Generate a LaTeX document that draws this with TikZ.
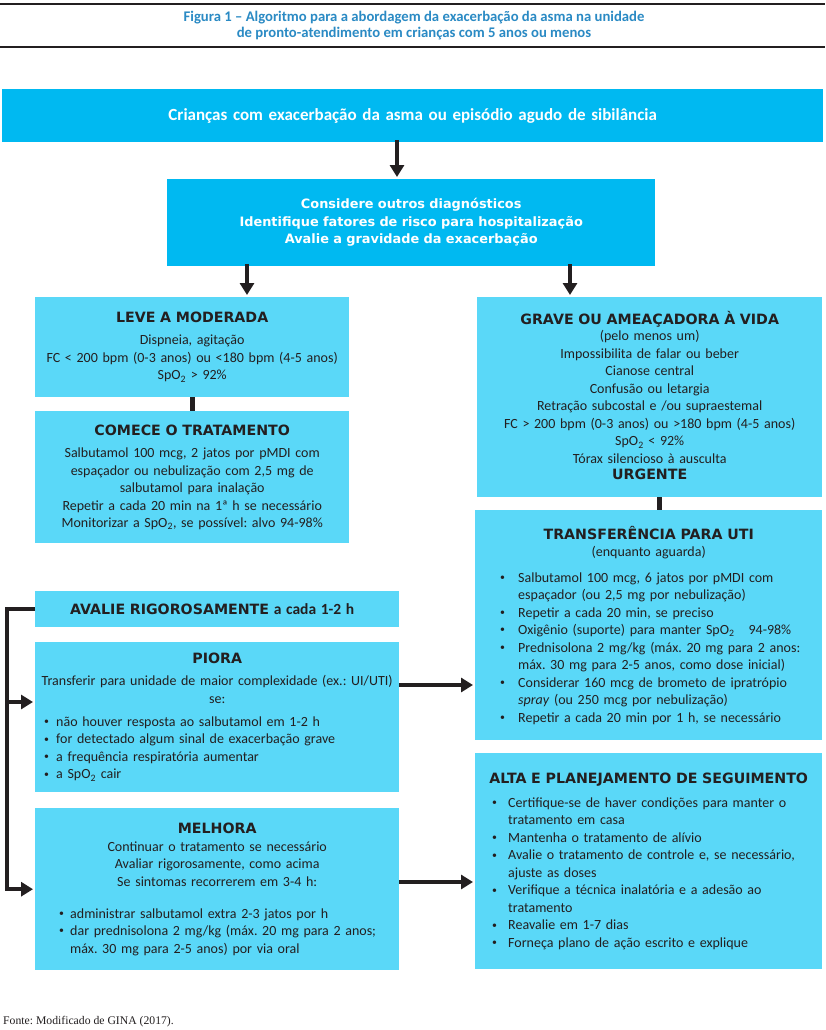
\documentclass[tikz,border=0pt]{standalone}
\usepackage{graphicx}
\usepackage{fontspec}
\setmainfont{Carlito}
\newfontfamily\dejavu{DejaVu Sans}
\newfontfamily\serifft{Liberation Serif}
\usetikzlibrary{arrows.meta}
\setlength\parskip{0pt}
\frenchspacing
\definecolor{dcyan}{HTML}{00B9F1}
\definecolor{lcyan}{HTML}{5AD8F8}
\definecolor{tblue}{HTML}{2A8AC4}
\definecolor{ink}{HTML}{231F20}
\newcommand{\bodyf}{\fontsize{14}{17.5}\selectfont}
\newcommand{\ttlf}{\dejavu\bfseries\fontsize{14.2}{17.5}\selectfont}
\newlength\bulW
\newcommand{\bul}[1]{\par\noindent\hangindent=\bulW\hangafter=1\makebox[\bulW][l]{\raisebox{0.25ex}{\scalebox{0.7}{\textbullet}}}#1}
\newcommand{\spo}{SpO\textsubscript{2}}
\begin{document}
\begin{tikzpicture}[x=1pt,y=-1pt,
  box/.style={rectangle, inner xsep=4pt, inner ysep=0pt, anchor=north west, text=ink, font=\bodyf, fill=lcyan},
  dbox/.style={box, fill=dcyan, text=white},
  arr/.style={line width=3.5pt, draw=ink, -{Triangle[length=12pt,width=14pt]}, shorten >=2pt},
  ln/.style={line width=5pt, draw=ink},
  brk/.style={line width=3.5pt, draw=ink},
]
\useasboundingbox (0,0) rectangle (825,1030);
\fill[white] (0,0) rectangle (825,1030);
% title
\draw[line width=2.5pt, draw=ink] (0,4) -- (825,4);
\draw[line width=2.5pt, draw=ink] (0,47) -- (825,47);
\node[align=center, text=tblue, font=\bfseries\fontsize{14.7}{16}\selectfont] (title) at (414,25.5)
  {Figura 1 – Algoritmo para a abordagem da exacerbação da asma na unidade\\de pronto-atendimento  em crianças com 5 anos ou menos};

\node[dbox, text width=813pt, minimum height=53pt, align=center, font=\bfseries\fontsize{17}{17.5}\selectfont] (box1) at (2,89)
  {Crianças com exacerbação da asma ou episódio agudo de sibilância};
\node[dbox, text width=480pt, minimum height=87pt, align=center, font=\dejavu\bfseries\fontsize{12.9}{17.5}\selectfont] (box2) at (167,179)
  {Considere outros diagnósticos\\Identifique fatores de risco para hospitalização\\Avalie a gravidade da exacerbação};

\node[box, text width=306pt, minimum height=100pt, align=center] (leve) at (35,297)
  {{\ttlf LEVE A MODERADA}\\[4.5pt]Dispneia, agitação\\FC < 200 bpm (0-3 anos) ou <180 bpm (4-5 anos)\\\spo{} > 92\%};
\node[box, text width=306pt, minimum height=132pt, align=center] (comece) at (35,411)
  {{\ttlf COMECE O TRATAMENTO}\\[5pt]Salbutamol 100 mcg, 2 jatos por pMDI com\\espaçador ou nebulização com 2,5 mg de\\salbutamol para inalação\\Repetir a cada 20 min na 1ª h se necessário\\Monitorizar a \spo, se possível: alvo 94-98\%};

\node[box, text width=337pt, minimum height=200pt, align=center] (grave) at (477,297)
  {{\ttlf GRAVE OU AMEAÇADORA À VIDA}\\[-1pt](pelo menos um)\\Impossibilita de falar ou beber\\Cianose central\\Confusão ou letargia\\Retração subcostal e /ou supraestemal\\FC > 200 bpm (0-3 anos) ou >180 bpm (4-5 anos)\\\spo{} < 92\%\\Tórax silencioso à ausculta\\[-1pt]{\ttlf URGENTE}\vspace*{3pt}};

\node[box, text width=339pt, minimum height=230pt] (transf) at (475,510)
  {\centering{\ttlf TRANSFERÊNCIA PARA UTI}\par (enquanto aguarda)\par\vspace{8pt}%
   \raggedright\setlength\leftskip{21pt}\setlength\bulW{18pt}%
   \bul{Salbutamol 100 mcg, 6 jatos por pMDI com\newline espaçador (ou 2,5 mg por nebulização)}%
   \bul{Repetir a cada 20 min, se preciso}%
   \bul{Oxigênio (suporte) para manter \spo\quad 94-98\%}%
   \bul{Prednisolona 2 mg/kg (máx. 20 mg para 2 anos:\newline máx. 30 mg para 2-5 anos, como dose inicial)}%
   \bul{Considerar 160 mcg de brometo de ipratrópio\newline \textit{spray} (ou 250 mcg por nebulização)}%
   \bul{Repetir a cada 20 min por 1 h, se necessário}\par};

\node[box, text width=356pt, minimum height=36pt, align=center] (aval) at (35,591)
  {\hspace*{-10pt}{\ttlf AVALIE RIGOROSAMENTE} {\bfseries\fontsize{15.5}{17.5}\selectfont a cada 1-2 h}};

\node[box, text width=356pt, minimum height=150pt] (piora) at (35,642)
  {\centering{\ttlf PIORA}\par\vspace{4.5pt}Transferir para unidade de maior complexidade (ex.: UI/UTI)\par se:\par\vspace{5.5pt}%
   \raggedright\setlength\leftskip{5pt}\setlength\bulW{12pt}%
   \bul{não houver resposta ao salbutamol em 1-2 h}%
   \bul{for detectado algum sinal de exacerbação grave}%
   \bul{a frequência respiratória aumentar}%
   \bul{a \spo{} cair}\par};

\node[box, text width=356pt, minimum height=162pt] (melh) at (35,808)
  {\centering{\ttlf MELHORA}\par Continuar o tratamento se necessário\par Avaliar rigorosamente, como acima\par Se sintomas recorrerem em 3-4 h:\par\vspace{14.5pt}%
   \raggedright\setlength\leftskip{20pt}\setlength\bulW{11pt}%
   \bul{administrar salbutamol extra 2-3 jatos por h}%
   \bul{dar prednisolona 2 mg/kg (máx. 20 mg para 2 anos;\newline máx. 30 mg para 2-5 anos) por via oral}\par};

\node[box, text width=339pt, minimum height=216pt] (alta) at (475,753)
  {\centering{\ttlf ALTA E PLANEJAMENTO DE SEGUIMENTO}\par\vspace{6.5pt}%
   \raggedright\setlength\leftskip{13pt}\setlength\bulW{16pt}%
   \bul{Certifique-se de haver condições para manter o\newline tratamento em casa}%
   \bul{Mantenha o tratamento de alívio}%
   \bul{Avalie o tratamento de controle e, se necessário,\newline ajuste as doses}%
   \bul{Verifique a técnica inalatória e a adesão ao\newline tratamento}%
   \bul{Reavalie em 1-7 dias}%
   \bul{Forneça plano de ação escrito e explique}\par};

\node[anchor=west, inner sep=0pt, text=ink, font=\serifft\fontsize{11.7}{13}\selectfont] (fonte) at (3,1022)
  {Fonte: Modificado de GINA (2017).};

% connectors
\coordinate (xa) at (397,0);
\coordinate (xb) at (247,0);
\coordinate (xc) at (570,0);
\coordinate (xd) at (659,0);
\coordinate (ya) at (0,685);
\coordinate (yb) at (0,882);
\coordinate (yc) at (0,702);
\coordinate (bk) at (7,0);
\draw[arr] ([yshift=2pt]box1.south -| xa) -- (box2.north -| xa);
\draw[arr] ([yshift=2pt]box2.south -| xb) -- (leve.north -| xb);
\draw[arr] ([yshift=2pt]box2.south -| xc) -- (grave.north -| xc);
\draw[ln] (leve.south) -- (comece.north);
\draw[ln] (grave.south -| xd) -- (transf.north -| xd);
\draw[arr] (piora.east |- ya) -- (transf.west |- ya);
\draw[arr] (melh.east |- yb) -- (alta.west |- yb);
\draw[brk, arr] (aval.west) -- (aval.west -| bk) |- (melh.west);
\draw[arr] (bk |- yc) -- (piora.west |- yc);
\end{tikzpicture}
\end{document}
